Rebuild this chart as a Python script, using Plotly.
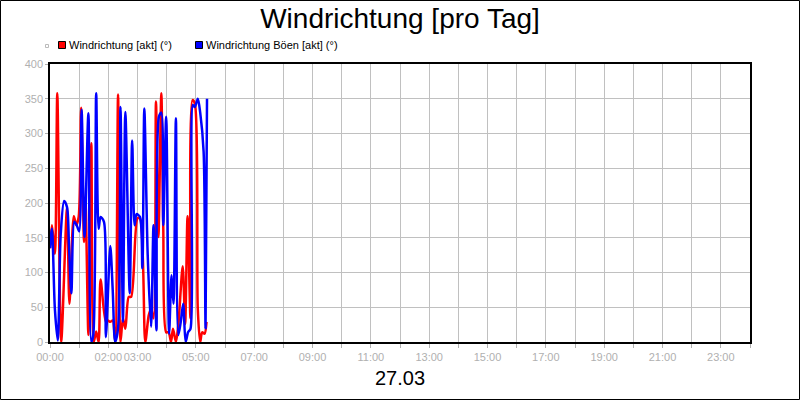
import plotly.graph_objects as go
import pandas as pd

# ---- data (minutes after midnight, degrees) ----
red_min = [0, 4, 10, 15, 23, 35, 40, 49, 54, 59, 64, 70, 73, 79, 85, 90, 95, 100, 104, 115,
           119, 124, 129, 134, 140, 145, 150, 155, 162, 167, 180, 185, 196, 203, 208, 213,
           218, 223, 229, 233, 239, 244, 249, 253, 259, 264, 273, 278, 283, 289, 293, 298,
           304, 309, 313, 318, 322]
red_val = [135, 168, 127, 358, 0, 193, 55, 181, 168, 180, 337, 144, 203, 10, 286, 0, 15, 0, 90, 29,
           31, 29, 31, 2, 356, 0, 34, 19, 65, 65, 178, 178, 0, 38, 48, 34,
           346, 151, 358, 166, 14, 14, 0, 19, 0, 25, 109, 26, 181, 34, 348, 343,
           48, 0, 14, 12, 29]

blue_min = [0, 4, 10, 16, 22, 29, 35, 39, 44, 50, 55, 60, 65, 71, 79, 85, 89, 95, 100, 104,
            111, 115, 124, 129, 134, 140, 145, 150, 155, 164, 169, 174, 178, 185, 190, 194,
            201, 208, 213, 219, 224, 229, 233, 239, 245, 250, 254, 259, 264, 269, 274, 279,
            284, 289, 294, 298, 304, 309, 316, 320, 323]
blue_val = [135, 163, 48, 2, 154, 203, 194, 140, 70, 173, 168, 159, 334, 151, 329, 0, 10, 358, 163, 180,
            173, 7, 138, 75, 0, 20, 338, 29, 331, 70, 290, 168, 184, 180, 106, 336,
            125, 22, 168, 17, 324, 330, 168, 324, 12, 96, 55, 322, 10, 29, 55, 0,
            14, 19, 341, 338, 350, 330, 274, 20, 350]

red_name = "Windrichtung [akt] (°)"
blue_name = "Windrichtung Böen [akt] (°)"
title_text = "Windrichtung [pro Tag]"
x_title = "27.03"

tick_hours = list(range(0, 25))
shown_labels = {0, 2, 3, 5, 7, 9, 11, 13, 15, 17, 19, 21, 23}
y_ticks = [0, 50, 100, 150, 200, 250, 300, 350, 400]

day = pd.Timestamp("2024-03-27")
def to_time(mins):
    return [day + pd.Timedelta(minutes=m) for m in mins]

tickvals = [day + pd.Timedelta(hours=h) for h in tick_hours]
ticktext = [f"{h:02d}:00" if h in shown_labels else "" for h in tick_hours]

fig = go.Figure()
fig.add_trace(go.Scatter(x=to_time(red_min), y=red_val, mode="lines",
                         line=dict(color="#ff0000", width=2.5, shape="spline", smoothing=0.8),
                         showlegend=False, name=red_name))
fig.add_trace(go.Scatter(x=to_time(blue_min), y=blue_val, mode="lines",
                         line=dict(color="#0000ff", width=2.5, shape="spline", smoothing=0.8),
                         showlegend=False, name=blue_name))

W, H = 800, 400
L, R, T, B = 50, 50, 64, 58
pw, ph = W - L - R, H - T - B
def px(x):
    return (x - L) / pw
def py(y):
    return (H - B - y) / ph

shapes = [
    # outer border
    dict(type="rect", xref="paper", yref="paper", x0=px(0.5), x1=px(799.5), y0=py(399.5), y1=py(0.5),
         line=dict(color="black", width=1)),
    # legend squares
    dict(type="rect", xref="paper", yref="paper", x0=px(45.5), x1=px(48.5), y0=py(47.5), y1=py(44.5),
         line=dict(color="#bbbbbb", width=1)),
    dict(type="rect", xref="paper", yref="paper", x0=px(58.5), x1=px(65.5), y0=py(48.5), y1=py(41.5),
         line=dict(color="black", width=1), fillcolor="#ff0000"),
    dict(type="rect", xref="paper", yref="paper", x0=px(195.5), x1=px(202.5), y0=py(48.5), y1=py(41.5),
         line=dict(color="black", width=1), fillcolor="#0000ff"),
]
annotations = [
    dict(text=red_name, xref="paper", yref="paper", x=px(67), y=py(45), xanchor="left", yanchor="middle",
         showarrow=False, font=dict(family="Liberation Sans, Arial", size=11, color="black")),
    dict(text=blue_name, xref="paper", yref="paper", x=px(204), y=py(45), xanchor="left", yanchor="middle",
         showarrow=False, font=dict(family="Liberation Sans, Arial", size=11, color="black")),
    dict(text=x_title, xref="paper", yref="paper", x=0.5, y=py(378), xanchor="center", yanchor="middle",
         showarrow=False, font=dict(family="Liberation Sans, Arial", size=20, color="black")),
]

fig.update_layout(
    width=W, height=H,
    margin=dict(l=L, r=R, t=T, b=B, autoexpand=False),
    paper_bgcolor="white", plot_bgcolor="white",
    title=dict(text=title_text, x=0.5, xanchor="center", y=1 - 18 / H, yanchor="middle",
               font=dict(family="Liberation Sans, Arial", size=28, color="black")),
    shapes=shapes, annotations=annotations,
    showlegend=False,
    xaxis=dict(type="date", range=[day, day + pd.Timedelta(hours=24)],
               tickmode="array", tickvals=tickvals, ticktext=ticktext, tickangle=0,
               automargin=False,
               showgrid=True, gridcolor="#c0c0c0", gridwidth=1,
               showline=True, linecolor="black", linewidth=1.5, mirror=True,
               ticks="outside", ticklen=4, tickcolor="#b0b0b0",
               tickfont=dict(family="Liberation Sans, Arial", size=11, color="#b0b0b0"),
               zeroline=False, fixedrange=True),
    yaxis=dict(range=[0, 400], tickmode="array", tickvals=y_ticks, automargin=False,
               showgrid=True, gridcolor="#c0c0c0", gridwidth=1,
               showline=True, linecolor="black", linewidth=1.5, mirror=True,
               ticks="outside", ticklen=3, tickcolor="#b0b0b0",
               tickfont=dict(family="Liberation Sans, Arial", size=11, color="#b0b0b0"),
               zeroline=False, fixedrange=True),
)

fig.write_html("out.html", config={"displayModeBar": False},
               post_script="document.body.style.margin='0';document.body.style.overflow='hidden';")
